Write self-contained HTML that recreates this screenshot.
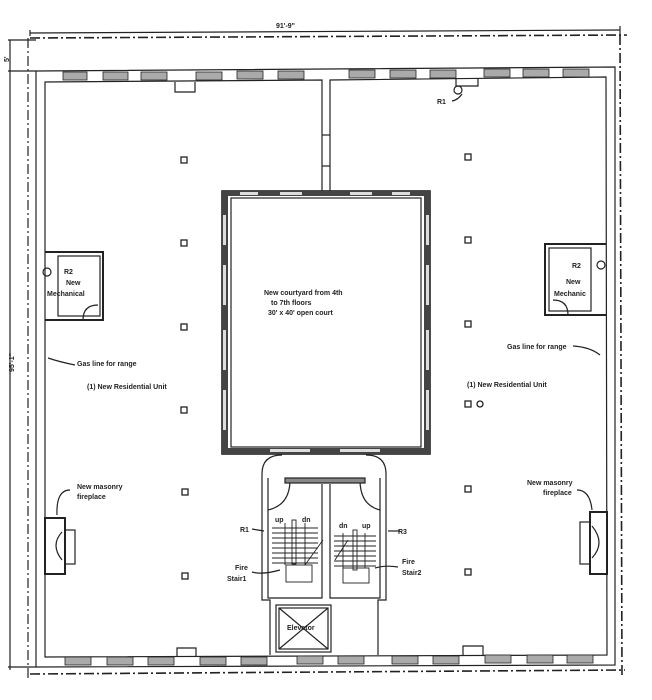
<!DOCTYPE html>
<html><head><meta charset="utf-8"><style>
html,body{margin:0;padding:0;background:#fff;}
svg{display:block}
text{font-family:"Liberation Sans",sans-serif;font-weight:bold;fill:#222}
</style></head><body>
<svg width="652" height="700" viewBox="0 0 652 700" xmlns="http://www.w3.org/2000/svg">
<g stroke="#222" fill="none" stroke-width="1.2">
<line x1="30" y1="33" x2="620" y2="30"/>
<line x1="30" y1="30" x2="30" y2="36"/><line x1="620" y1="26" x2="620" y2="36"/>
<line x1="10" y1="40" x2="10" y2="670"/>
<line x1="8" y1="40" x2="36" y2="40"/><line x1="8" y1="71" x2="36" y2="71"/>
<line x1="8" y1="667" x2="36" y2="667"/>
<line x1="30" y1="38" x2="627" y2="35" stroke-dasharray="10,3,2,3" stroke-width="1.6"/>
<line x1="28" y1="38" x2="28" y2="680" stroke-dasharray="10,3,2,3"/>
<line x1="620" y1="35" x2="622" y2="678" stroke-dasharray="10,3,2,3" stroke-width="1.6"/>
<line x1="30" y1="674" x2="625" y2="670" stroke-dasharray="10,3,2,3" stroke-width="1.6"/>
<path d="M36 71 L615 67 L615 665 L36 667 Z"/>
<path d="M322 192 L322 80 L45 82 L45 657 L607 655 L606 77 L330 80 L330 192"/>
<line x1="322" y1="135" x2="330" y2="135"/><line x1="322" y1="166" x2="330" y2="166"/>
<g fill="#aaa" stroke="#222" stroke-width="0.8">
<rect x="63" y="72" width="24" height="8"/><rect x="103" y="72" width="25" height="8"/><rect x="141" y="72" width="26" height="8"/>
<rect x="196" y="72" width="26" height="8"/><rect x="237" y="71" width="26" height="8"/><rect x="278" y="71" width="26" height="8"/>
<rect x="349" y="70" width="26" height="8"/><rect x="390" y="70" width="26" height="8"/><rect x="430" y="70" width="26" height="8"/>
<rect x="484" y="69" width="26" height="8"/><rect x="523" y="69" width="26" height="8"/><rect x="563" y="69" width="26" height="8"/>
<rect x="65" y="657" width="26" height="8"/><rect x="107" y="657" width="26" height="8"/><rect x="148" y="657" width="26" height="8"/>
<rect x="200" y="657" width="26" height="8"/><rect x="241" y="657" width="26" height="8"/><rect x="297" y="656" width="26" height="8"/>
<rect x="338" y="656" width="26" height="8"/><rect x="392" y="656" width="26" height="8"/><rect x="433" y="656" width="26" height="8"/>
<rect x="485" y="655" width="26" height="8"/><rect x="527" y="655" width="26" height="8"/><rect x="567" y="655" width="26" height="8"/>
</g>
<path d="M175 82 L175 92 L195 92 L195 82"/>
<path d="M456 78 L456 86 L478 86 L478 78"/>
<circle cx="458" cy="90" r="4"/>
<path d="M177 657 L177 648 L196 648 L196 657"/>
<path d="M463 655 L463 646 L483 646 L483 655"/>
<rect x="222" y="191" width="208" height="263" stroke-width="1.6"/>
<rect x="231" y="198" width="190" height="249"/>
<g fill="#444" stroke="none">
<rect x="222" y="191" width="208" height="5"/>
<rect x="222" y="448" width="208" height="6"/>
<rect x="222" y="191" width="6" height="263"/>
<rect x="424" y="191" width="6" height="263"/>
</g>
<g fill="#ddd" stroke="none">
<rect x="240" y="192" width="18" height="3"/><rect x="280" y="192" width="22" height="3"/><rect x="350" y="192" width="22" height="3"/><rect x="392" y="192" width="18" height="3"/>
<rect x="223" y="215" width="3" height="30"/><rect x="223" y="265" width="3" height="40"/><rect x="223" y="330" width="3" height="40"/><rect x="223" y="390" width="3" height="40"/>
<rect x="426" y="215" width="3" height="30"/><rect x="426" y="265" width="3" height="40"/><rect x="426" y="330" width="3" height="40"/><rect x="426" y="390" width="3" height="40"/>
<rect x="270" y="449" width="40" height="3"/><rect x="340" y="449" width="40" height="3"/>
</g>
<path d="M262 474 L262 600 L270 600 L270 655 M386 474 L386 600 L378 600 L378 655"/>
<path d="M268 478 L268 598 L322 598 L322 484 M330 484 L330 598 L380 598 L380 478"/>
<path d="M262 474 Q262 455 282 455 M386 474 Q386 455 366 455"/>
<path d="M268 510 Q290 505 290 480 M380 510 Q360 505 360 480"/>
<rect x="285" y="478" width="80" height="5" fill="#888"/>
<g stroke-width="0.9">
<path d="M272 528 L318 528 M272 533 L318 533 M272 538 L318 538 M272 543 L318 543 M272 548 L318 548 M272 553 L318 553 M272 558 L318 558 M272 563 L318 563"/>
<path d="M334 536 L376 536 M334 541 L376 541 M334 546 L376 546 M334 551 L376 551 M334 556 L376 556 M334 561 L376 561 M334 566 L376 566"/>
<rect x="286" y="565" width="26" height="17"/><rect x="343" y="568" width="26" height="15"/>
<rect x="292" y="520" width="4" height="44"/><rect x="353" y="530" width="4" height="40"/>
<line x1="285" y1="523" x2="285" y2="565"/><line x1="305" y1="523" x2="305" y2="565"/>
<line x1="343" y1="533" x2="343" y2="568"/><line x1="365" y1="533" x2="365" y2="568"/>
<line x1="305" y1="565" x2="323" y2="540"/><line x1="335" y1="560" x2="348" y2="540"/>
</g>
<rect x="276" y="605" width="55" height="47"/>
<rect x="279" y="608" width="49" height="41"/>
<line x1="279" y1="608" x2="328" y2="649"/><line x1="328" y1="608" x2="279" y2="649"/>
<path d="M45 252 L103 252 L103 320 L45 320" stroke-width="2"/>
<rect x="58" y="256" width="42" height="60"/>
<path d="M83 320 Q83 305 98 305"/>
<path d="M606 244 L545 244 L545 315 L606 315" stroke-width="2"/>
<rect x="549" y="248" width="42" height="63"/>
<path d="M568 315 Q568 300 553 300"/>
<circle cx="47" cy="272" r="4"/><circle cx="601" cy="265" r="4"/>
<rect x="45" y="518" width="20" height="56" stroke-width="2"/><rect x="65" y="530" width="10" height="34"/>
<path d="M62 532 Q50 545 62 560"/>
<rect x="590" y="512" width="17" height="62" stroke-width="2"/><rect x="580" y="522" width="10" height="42"/>
<path d="M592 526 Q606 543 592 558"/>
<g stroke-width="1.3">
<rect x="181" y="157" width="6" height="6"/><rect x="181" y="240" width="6" height="6"/><rect x="181" y="324" width="6" height="6"/>
<rect x="181" y="407" width="6" height="6"/><rect x="182" y="489" width="6" height="6"/><rect x="182" y="573" width="6" height="6"/>
<rect x="465" y="154" width="6" height="6"/><rect x="465" y="237" width="6" height="6"/><rect x="465" y="321" width="6" height="6"/>
<rect x="465" y="401" width="6" height="6"/><rect x="465" y="486" width="6" height="6"/><rect x="465" y="569" width="6" height="6"/>
<circle cx="480" cy="404" r="3"/>
</g>
<path d="M75 365 Q60 362 48 358"/><path d="M573 346 Q590 347 600 355"/>
<path d="M70 490 Q56 490 57 515"/><path d="M577 490 Q590 490 592 510"/>
<path d="M462 94 Q458 100 452 101"/>
<path d="M252 529 L264 531"/><path d="M400 531 L388 531"/>
<path d="M252 572 Q262 575 280 570"/><path d="M398 567 Q385 565 375 568"/>
</g>
<g font-size="7">
<text x="276" y="28">91'-9"</text>
<text x="3" y="60" transform="rotate(-90 7 58)">5'</text>
<text x="14" y="372" transform="rotate(-90 14 372)">95'-1"</text>
<text x="437" y="104">R1</text>
<text x="64" y="274">R2</text>
<text x="66" y="285">New</text>
<text x="47" y="296">Mechanical</text>
<text x="572" y="268">R2</text>
<text x="566" y="284">New</text>
<text x="554" y="296">Mechanic</text>
<text x="264" y="295">New courtyard from 4th</text>
<text x="271" y="305">to 7th floors</text>
<text x="268" y="315">30' x 40' open court</text>
<text x="77" y="366">Gas line for range</text>
<text x="507" y="349">Gas line for range</text>
<text x="87" y="389">(1) New  Residential Unit</text>
<text x="467" y="387">(1) New  Residential Unit</text>
<text x="77" y="489">New masonry</text>
<text x="77" y="499">fireplace</text>
<text x="527" y="485">New masonry</text>
<text x="543" y="495">fireplace</text>
<text x="240" y="532">R1</text>
<text x="398" y="534">R3</text>
<text x="275" y="522">up</text><text x="302" y="522">dn</text>
<text x="339" y="528">dn</text><text x="362" y="528">up</text>
<text x="235" y="570">Fire</text><text x="227" y="581">Stair1</text>
<text x="402" y="564">Fire</text><text x="402" y="575">Stair2</text>
<text x="287" y="630">Elevator</text>
</g>
</svg>
</body></html>
